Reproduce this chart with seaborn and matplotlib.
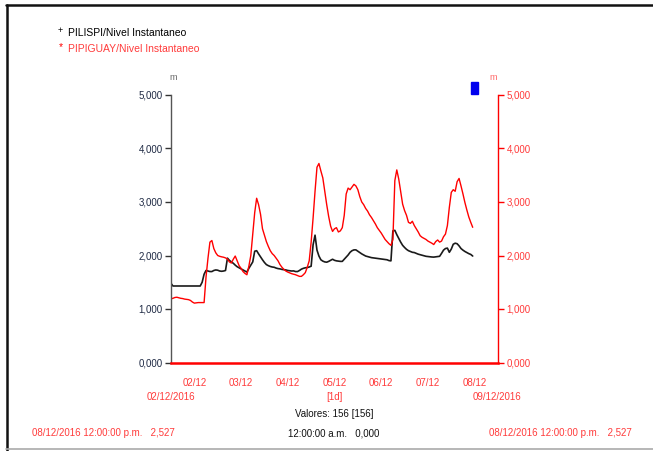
import numpy as np
import pandas as pd
import seaborn as sns
import matplotlib
matplotlib.use("Agg")
import matplotlib.pyplot as plt
from matplotlib import font_manager
from matplotlib.lines import Line2D
from matplotlib.patches import Rectangle

# ---------------- data (hourly values, 02/12/2016 00:00 onward) ----------------
pilispi = [
    1480, 1430, 1430, 1430, 1430, 1430, 1430, 1430, 1430, 1430,
    1430, 1430, 1430, 1430, 1430, 1430, 1500, 1650, 1720, 1710,
    1700, 1700, 1720, 1730, 1725, 1710, 1705, 1710, 1720, 1950,
    1910, 1880, 1855, 1820, 1790, 1770, 1750, 1730, 1710, 1690,
    1760, 1820, 1880, 2080, 2090, 2030, 1975, 1920, 1870, 1830,
    1810, 1795, 1785, 1780, 1765, 1755, 1750, 1740, 1735, 1730,
    1720, 1715, 1710, 1712, 1700, 1700, 1720, 1745, 1760, 1770,
    1775, 1785, 1800, 2200, 2380, 2100, 1990, 1920, 1895, 1880,
    1875, 1890, 1910, 1930, 1910, 1900, 1895, 1890, 1890, 1930,
    1970, 2010, 2060, 2090, 2105, 2105, 2080, 2055, 2030, 2010,
    1990, 1980, 1970, 1960, 1955, 1950, 1945, 1940, 1935, 1930,
    1925, 1920, 1905, 1900, 2460, 2470, 2390, 2320, 2250, 2190,
    2150, 2115, 2090, 2075, 2060, 2055, 2040, 2025, 2015, 2005,
    1995, 1985, 1980, 1975, 1972, 1970, 1975, 1980, 1985, 2040,
    2100, 2130, 2138, 2060, 2120, 2210, 2230, 2220, 2180, 2130,
    2100, 2075, 2055, 2035, 2020, 1990,
]
pipiguay = [
    1190, 1200, 1215, 1220, 1210, 1200, 1195, 1185, 1180, 1175,
    1160, 1130, 1110, 1115, 1120, 1120, 1120, 1120, 1600, 1950,
    2250, 2280, 2130, 2050, 2000, 1985, 1975, 1968, 1955, 1935,
    1880, 1860, 1930, 1990, 1900, 1810, 1760, 1700, 1665, 1640,
    1800, 2000, 2400, 2800, 3070, 2950, 2770, 2500, 2380, 2260,
    2170, 2090, 2035, 2000, 1950, 1900, 1830, 1780, 1740, 1710,
    1690, 1675, 1660, 1650, 1640, 1625, 1610, 1610, 1640, 1680,
    1780, 1900, 2250, 2700, 3200, 3650, 3720, 3580, 3450, 3200,
    2950, 2730, 2550, 2450, 2500, 2520, 2440, 2460, 2520, 2750,
    3150, 3260, 3230, 3280, 3330, 3300, 3230, 3100, 3000, 2950,
    2880, 2830, 2760, 2710, 2650, 2590, 2520, 2470, 2420, 2360,
    2300, 2260, 2220, 2190, 2300, 3400, 3600, 3430, 3200, 2960,
    2840, 2750, 2620, 2600, 2640, 2560, 2500, 2440, 2370, 2340,
    2320, 2300, 2270, 2250, 2230, 2205, 2260, 2290, 2250, 2270,
    2350, 2400, 2560, 2900, 3180, 3230, 3200, 3380, 3440, 3300,
    3150, 2990, 2850, 2720, 2620, 2527,
]
day_labels = ["02/12", "03/12", "04/12", "05/12", "06/12", "07/12", "08/12"]
y_ticks = [0, 1000, 2000, 3000, 4000, 5000]
y_tick_labels = ["0,000", "1,000", "2,000", "3,000", "4,000", "5,000"]
series_names = ["PILISPI/Nivel Instantaneo", "PIPIGUAY/Nivel Instantaneo"]

# ---------------- style ----------------
sns.set_style("white")
avail = {f.name for f in font_manager.fontManager.ttflist}
fam = "Liberation Sans Narrow" if "Liberation Sans Narrow" in avail else "Liberation Sans"
plt.rcParams["font.family"] = [fam, "DejaVu Sans"]

RED = "#ff0000"
TXT_RED = "#ff3b3b"
W, H = 653, 451
FS = 7 if fam == "Liberation Sans" else 7.5

hours = np.arange(len(pilispi))
df = pd.DataFrame({
    "day": np.concatenate([hours, hours]) / 24.0,
    "value": np.concatenate([pilispi, pipiguay]),
    "series": [series_names[0]] * len(pilispi) + [series_names[1]] * len(pipiguay),
})

fig = plt.figure(figsize=(W / 100, H / 100), dpi=100)
fig.patch.set_facecolor("white")
ax = fig.add_axes([171 / W, 1 - 362.5 / H, (498 - 171) / W, (362.5 - 95) / H])

sns.lineplot(data=df, x="day", y="value", hue="series",
             palette={series_names[0]: "#1a1a1a", series_names[1]: RED},
             ax=ax, legend=False, linewidth=1.0, estimator=None)
ax.lines[0].set_linewidth(1.2)

ax.set_xlim(0, 7)
ax.set_ylim(0, 5000)
ax.set_xlabel("")
ax.set_ylabel("")

for s in ["top", "right"]:
    ax.spines[s].set_visible(False)
ax.spines["left"].set_color("#555555")
ax.spines["left"].set_linewidth(1.0)
ax.spines["bottom"].set_color(RED)
ax.spines["bottom"].set_linewidth(1.8)
ax.spines["bottom"].set_zorder(5)

ax.set_yticks(y_ticks)
ax.set_yticklabels(y_tick_labels)
ax.tick_params(axis="y", which="major", direction="out", length=4, width=1,
               color="#333333", labelsize=FS, labelcolor="#1f2a44", pad=2)

ax.set_xticks(np.arange(0, 8))
ax.set_xticklabels([""] * 8)
ax.tick_params(axis="x", which="major", direction="out", length=9, width=1,
               color=RED)
ax.set_xticks(np.arange(len(day_labels)) + 0.5, minor=True)
ax.set_xticklabels(day_labels, minor=True)
ax.tick_params(axis="x", which="minor", length=0, labelsize=FS,
               labelcolor=TXT_RED, pad=11)

ax2 = ax.twinx()
ax2.set_ylim(0, 5000)
for s in ["top", "left", "bottom"]:
    ax2.spines[s].set_visible(False)
ax2.spines["right"].set_color(RED)
ax2.spines["right"].set_linewidth(1.0)
ax2.set_yticks(y_ticks)
ax2.set_yticklabels(y_tick_labels)
ax2.tick_params(axis="y", direction="out", length=4, width=1, color=RED,
                labelsize=FS, labelcolor=TXT_RED, pad=2)


def ftext(x, y, s, color, ha="left", size=FS):
    fig.text(x / W, 1 - y / H, s, color=color, ha=ha, va="center", fontsize=size)


# axis unit labels
ftext(173, 78, "m", "#666666", ha="center", size=6.5)
ftext(493, 78, "m", "#ff6666", ha="center", size=6.5)

# legend
ftext(60.5, 31, "+", "#000000", ha="center", size=6.5)
ftext(68, 33, series_names[0], "#000000", size=7.5)
ftext(60.5, 47, "*", RED, ha="center", size=7.5)
ftext(68, 49, series_names[1], TXT_RED, size=7.5)

# blue square
fig.add_artist(Rectangle((470.5 / W, 1 - 94 / H), 7 / W, 12.5 / H,
                         transform=fig.transFigure, color="#0000ee"))

# bottom annotations
ftext(171, 397, "02/12/2016", TXT_RED, ha="center")
ftext(334, 397, "[1d]", TXT_RED, ha="center")
ftext(497, 397, "09/12/2016", TXT_RED, ha="center")
ftext(334, 414, "Valores: 156 [156]", "#111111", ha="center")
ftext(32, 433, "08/12/2016 12:00:00 p.m.   2,527", TXT_RED)
ftext(334, 433, "12:00:00 a.m.   0,000", "#111111", ha="center")
ftext(489, 433, "08/12/2016 12:00:00 p.m.   2,527", TXT_RED)

# outer frame
fig.add_artist(Line2D([6 / W, 1], [1 - 5 / H, 1 - 5 / H], transform=fig.transFigure,
                      color="#111111", linewidth=1.8))
fig.add_artist(Line2D([6.5 / W, 6.5 / W], [1 - 5 / H, 0], transform=fig.transFigure,
                      color="#111111", linewidth=1.8))
fig.add_artist(Line2D([6 / W, 1], [1 - 448.5 / H, 1 - 448.5 / H], transform=fig.transFigure,
                      color="#aaaaaa", linewidth=1.2))

fig.savefig("out.png", dpi=100, facecolor="white")
